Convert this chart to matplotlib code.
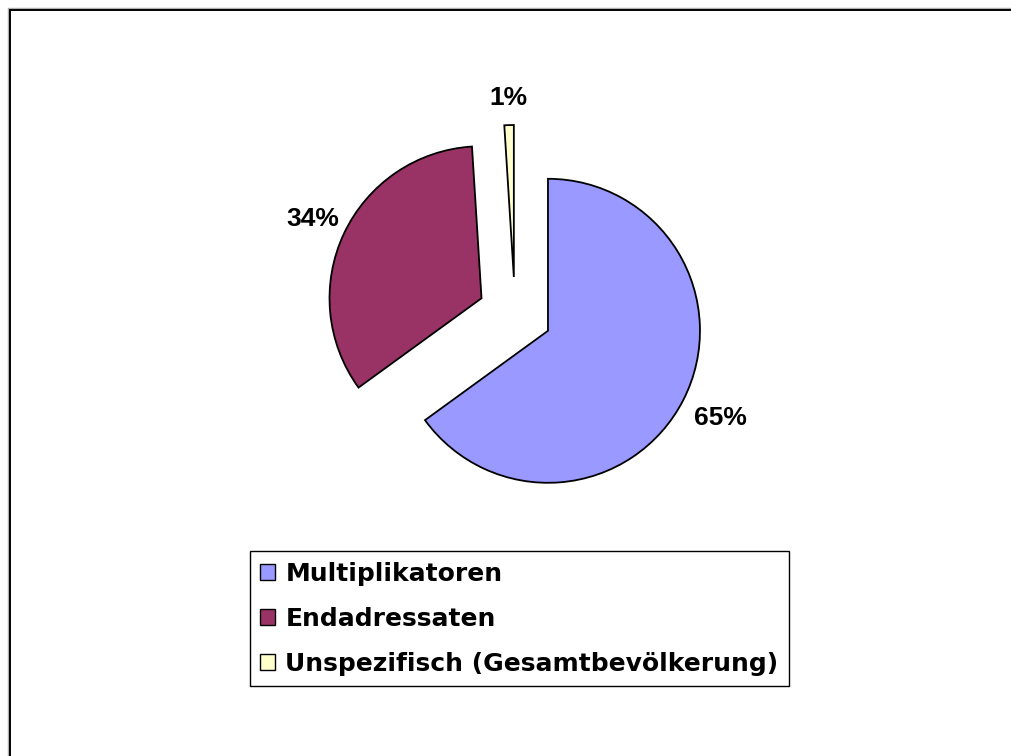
import matplotlib
matplotlib.use("Agg")
import math
import matplotlib.pyplot as plt
from matplotlib.patches import Rectangle

categories = ["Multiplikatoren", "Endadressaten", "Unspezifisch (Gesamtbevölkerung)"]
values = [65, 34, 1]
colors = ["#9999FF", "#993366", "#FFFFCC"]

W, H = 1012, 756
fig = plt.figure(figsize=(W / 100, H / 100), dpi=100)
plt.rcParams['font.family'] = ['Liberation Sans', 'DejaVu Sans']

ax = fig.add_axes([0, 0, 1, 1])
R = 152
cx, cy = 515, H - 314
expl = 37
total = sum(values)
labels = [f"{v / total * 100:.0f}%" for v in values]
wedges, texts = ax.pie(values, colors=colors, radius=R, center=(cx, cy),
                       explode=[expl] * len(values), startangle=90, counterclock=False,
                       labels=labels, labeldistance=1.23,
                       wedgeprops=dict(edgecolor="black", linewidth=1.3),
                       textprops=dict(fontsize=19, fontweight="bold", color="black"))
# per-label distances from each exploded wedge apex
dists = [1.27, 1.23, 1.18]
for w, t, d in zip(wedges, texts, dists):
    thm = math.radians(0.5 * (w.theta1 + w.theta2))
    x0, y0 = w.center
    t.set_position((x0 + d * R * math.cos(thm), y0 + d * R * math.sin(thm)))
    t.set_ha("center")
    t.set_va("center")

ax.set_xlim(0, W)
ax.set_ylim(0, H)
ax.set_aspect("equal")
ax.axis("off")

# outer chart frame (with light shadow)
ax.add_patch(Rectangle((8.5, -20), W + 40, H - 8 + 20, fill=False, edgecolor="#b0b0b0", linewidth=1.0, zorder=0))
ax.add_patch(Rectangle((10, -20), W + 40, H - 9.5 + 20, fill=False, edgecolor="black", linewidth=1.4, zorder=1))

handles = [Rectangle((0, 0), 1, 1, facecolor=c, edgecolor="black", linewidth=1.0) for c in colors]
leg = fig.legend(handles, categories, loc="upper left",
                 bbox_to_anchor=(250 / W, 1 - 551 / H), borderaxespad=0,
                 prop=dict(family="DejaVu Sans", weight="bold", size=18),
                 frameon=True, fancybox=False, framealpha=1, edgecolor="black",
                 handlelength=0.6, handleheight=0.6, handletextpad=0.4,
                 labelspacing=0.84, borderpad=0.42)
leg.get_frame().set_linewidth(1.0)

fig.savefig("out.png", dpi=100)
